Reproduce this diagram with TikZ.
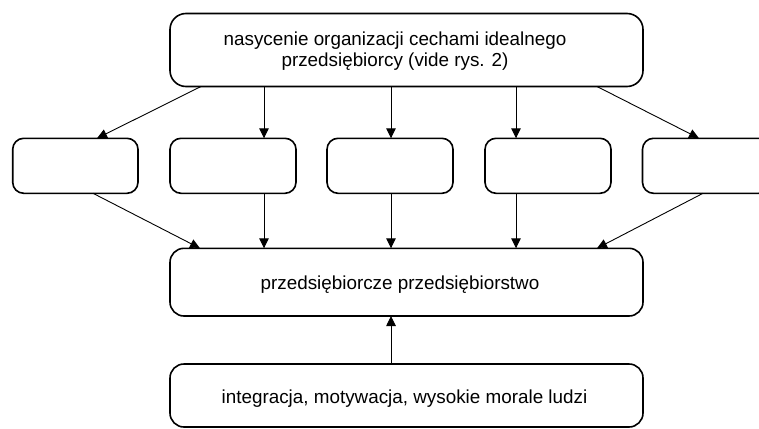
\documentclass[tikz,border=0pt]{standalone}
\usepackage{fontspec}
\setmainfont{Liberation Sans}
\usetikzlibrary{arrows.meta}
\begin{document}
\begin{tikzpicture}[x=1pt,y=-1pt,
  box/.style={draw=black,line width=1.6pt,rounded corners=#1,fill=white,inner sep=0pt},
  box/.default=11pt,
  txt/.style={inner sep=0pt,font=\fontsize{18.85}{21}\selectfont,align=center},
  arr/.style={line width=0.9pt,-{Triangle[length=10pt,width=9.5pt]}}]
\useasboundingbox (0,0) rectangle (759,428);
\clip (0,0) rectangle (759,428);
% boxes
\draw[box=16pt] (170,13.5) rectangle (643,86.5);
\draw[box] (12.7,138.3) rectangle (138,193.3);
\draw[box] (170,138.3) rectangle (296,193.3);
\draw[box] (327,138.3) rectangle (453,193.3);
\draw[box] (485,138.3) rectangle (611,193.3);
\draw[box] (642.5,138.3) rectangle (770,193.3);
\draw[box=14pt] (170,248.3) rectangle (643,316);
\draw[box=14pt] (170,364) rectangle (643,427);
% named anchor points
\coordinate (t1) at (201,86.5);  \coordinate (b1t) at (97,138.3);
\coordinate (t2) at (264,86.5);  \coordinate (b2t) at (264,138.3);
\coordinate (t3) at (391,86.5);  \coordinate (b3t) at (391,138.3);
\coordinate (t4) at (516,86.5);  \coordinate (b4t) at (516,138.3);
\coordinate (t5) at (597,86.5);  \coordinate (b5t) at (699,138.3);
\coordinate (b1b) at (93,193.3);  \coordinate (m1) at (200,248.3);
\coordinate (b2b) at (264,193.3); \coordinate (m2) at (264,248.3);
\coordinate (b3b) at (391,193.3); \coordinate (m3) at (391,248.3);
\coordinate (b4b) at (516,193.3); \coordinate (m4) at (516,248.3);
\coordinate (b5b) at (703,193.3); \coordinate (m5) at (597,248.3);
\coordinate (lowT) at (391,364); \coordinate (mB) at (391,316);
% texts
\node[txt,anchor=base] (toptext) at (395,66.5) {nasycenie organizacji cechami idealnego\\przedsiębiorcy (vide rys. 2)};
\node[txt,anchor=base] (midtext) at (400,289.5) {przedsiębiorcze przedsiębiorstwo};
\node[txt,anchor=base] (lowtext) at (404.5,403.5) {integracja, motywacja, wysokie morale ludzi};
% arrows
\draw[arr] (t1) -- (b1t);
\draw[arr] (t2) -- (b2t);
\draw[arr] (t3) -- (b3t);
\draw[arr] (t4) -- (b4t);
\draw[arr] (t5) -- (b5t);
\draw[arr] (b1b) -- (m1);
\draw[arr] (b2b) -- (m2);
\draw[arr] (b3b) -- (m3);
\draw[arr] (b4b) -- (m4);
\draw[arr] (b5b) -- (m5);
\draw[arr] (lowT) -- (mB);
\end{tikzpicture}
\end{document}
